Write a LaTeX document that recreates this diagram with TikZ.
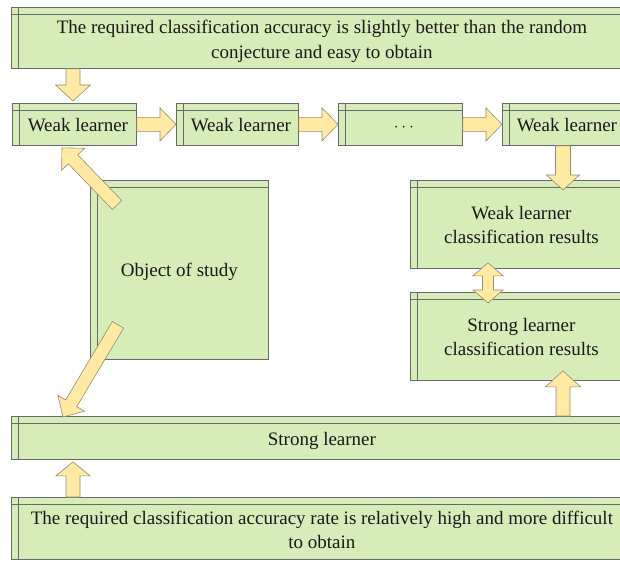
\documentclass[tikz,border=0pt]{standalone}
\usepackage{fontspec}
\setmainfont{Liberation Serif}
\usetikzlibrary{calc}
\definecolor{boxg}{RGB}{214,236,185}
\definecolor{arrfill}{RGB}{255,233,163}
\definecolor{arredge}{RGB}{150,140,110}
\definecolor{boxedge}{RGB}{105,105,105}
\definecolor{txt}{RGB}{25,25,25}
\tikzset{
  store/.style={draw=boxedge, fill=boxg, anchor=north west, inner sep=0pt,
    line width=0.8pt, text=txt, font=\fontsize{19}{24.5}\selectfont,
    path picture={
      \draw[boxedge, line width=0.8pt] ([xshift=7pt]path picture bounding box.north west) -- ([xshift=7pt]path picture bounding box.south west);
      \draw[boxedge, line width=0.8pt] ([yshift=-7pt]path picture bounding box.north west) -- ([yshift=-7pt]path picture bounding box.north east);}},
  barr/.style={draw=arredge, fill=arrfill, line width=0.6pt, line join=miter}
}
% text shifted right by #1/2 and down by #2, lines in #3
\newcommand\bt[3]{\raisebox{-#2}[\height][\depth]{\hspace*{#1}\begin{tabular}{@{}c@{}}#3\end{tabular}}}
% #1 tail, #2 tip, #3 half shaft width, #4 half head width, #5 head length
\newcommand\blockarr[5]{%
  \coordinate (bah) at ($(#2)!#5!(#1)$);
  \draw[barr] ($(#1)!#3!90:(#2)$) -- ($(bah)!#3!-90:(#1)$) -- ($(bah)!#4!-90:(#1)$) -- (#2)
    -- ($(bah)!#4!90:(#1)$) -- ($(bah)!#3!90:(#1)$) -- ($(#1)!#3!-90:(#2)$) -- cycle;}
% double-headed: #1 tip A, #2 tip B
\newcommand\dblarr[5]{%
  \coordinate (bha) at ($(#1)!#5!(#2)$);
  \coordinate (bhb) at ($(#2)!#5!(#1)$);
  \draw[barr] (#1) -- ($(bha)!#4!90:(#2)$) -- ($(bha)!#3!90:(#2)$) -- ($(bhb)!#3!-90:(#1)$)
    -- ($(bhb)!#4!-90:(#1)$) -- (#2) -- ($(bhb)!#4!90:(#1)$) -- ($(bhb)!#3!90:(#1)$)
    -- ($(bha)!#3!-90:(#2)$) -- ($(bha)!#4!-90:(#2)$) -- cycle;}
\begin{document}
\begin{tikzpicture}[x=1pt, y=-1pt]
\useasboundingbox (0,0) rectangle (620,562);
\clip (0,0) rectangle (620,562);
\fill[white] (0,0) rectangle (620,562);

\node[store, minimum width=621pt, minimum height=61pt] (top) at (11,7)
  {\bt{0pt}{3pt}{The required classification accuracy is slightly better than the random\\conjecture and easy to obtain}};
\node[store, minimum width=124pt, minimum height=42pt] (wl1) at (12,103) {\bt{7pt}{2pt}{Weak learner}};
\node[store, minimum width=122pt, minimum height=42pt] (wl2) at (176,103) {\bt{7pt}{2pt}{Weak learner}};
\node[store, minimum width=124pt, minimum height=42pt] (wl3) at (338,103) {\bt{7pt}{2pt}{$\cdots$}};
\node[store, minimum width=122pt, minimum height=42pt] (wl4) at (502,103) {\bt{7pt}{2pt}{Weak learner}};
\node[store, minimum width=178pt, minimum height=179pt] (obj) at (90,180) {\bt{0pt}{2pt}{Object of study}};
\node[store, minimum width=222pt, minimum height=88pt] (wres) at (410,180) {\bt{0pt}{2pt}{Weak learner\\classification results}};
\node[store, minimum width=222pt, minimum height=88pt] (sres) at (410,292) {\bt{0pt}{2pt}{Strong learner\\classification results}};
\node[store, minimum width=621pt, minimum height=43pt] (strong) at (11,416) {\bt{0pt}{3pt}{Strong learner}};
\node[store, minimum width=621pt, minimum height=62pt] (bottom) at (11,497)
  {\bt{0pt}{3pt}{The required classification accuracy rate is relatively high and more difficult\\to obtain}};

\blockarr{[xshift=62pt]top.south west}{[xshift=61pt,yshift=2pt]wl1.north west}{7pt}{17.5pt}{16pt}
\blockarr{wl1.east}{wl2.west}{7pt}{16.5pt}{16pt}
\blockarr{wl2.east}{wl3.west}{7pt}{16.5pt}{16pt}
\blockarr{wl3.east}{wl4.west}{7pt}{16.5pt}{16pt}
\blockarr{[xshift=61pt]wl4.south west}{[xshift=153pt,yshift=-10pt]wres.north west}{7.5pt}{16.5pt}{15pt}
\dblarr{[xshift=78pt,yshift=6pt]wres.south west}{[xshift=78pt,yshift=-11pt]sres.north west}{5.5pt}{15pt}{13pt}
\blockarr{[xshift=552pt]strong.north west}{[xshift=153pt,yshift=10pt]sres.south west}{7pt}{17.5pt}{16pt}
\blockarr{[xshift=62pt]bottom.north west}{[xshift=62pt,yshift=-2pt]strong.south west}{7pt}{17pt}{14pt}
\blockarr{[xshift=27pt,yshift=-25pt]obj.north west}{[xshift=50pt,yshift=-2pt]wl1.south west}{6.5pt}{16pt}{16pt}
\blockarr{[xshift=28pt,yshift=35pt]obj.south west}{[xshift=52pt,yshift=-1pt]strong.north west}{6.5pt}{15.5pt}{16pt}
\end{tikzpicture}
\end{document}
